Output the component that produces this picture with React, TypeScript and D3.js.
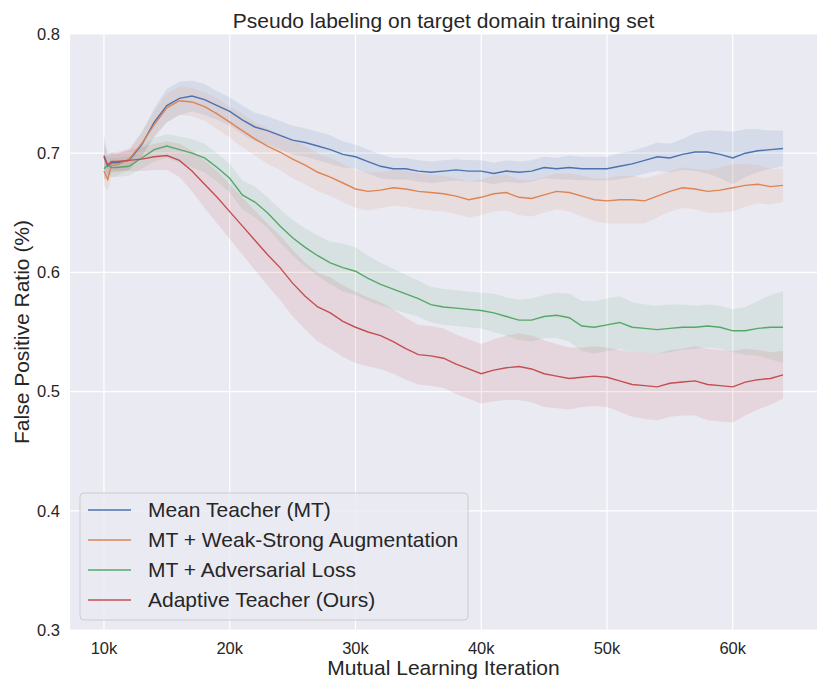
import React, { useEffect } from "react";
import * as d3 from "d3";

// iterations sampled from the figure
const iters = [
  10000, 10300, 10600, 11000, 12000, 13000, 14000, 15000, 16000, 17000, 18000, 19000,
  20000, 21000, 22000, 23000, 24000, 25000, 26000, 27000, 28000, 29000, 30000, 31000,
  32000, 33000, 34000, 35000, 36000, 37000, 38000, 39000, 40000, 41000, 42000, 43000,
  44000, 45000, 46000, 47000, 48000, 49000, 50000, 51000, 52000, 53000, 54000, 55000,
  56000, 57000, 58000, 59000, 60000, 61000, 62000, 63000, 64000,
];

const meanTeacher = [
  0.697, 0.689, 0.692, 0.692, 0.694, 0.707, 0.726, 0.74, 0.746, 0.748, 0.745, 0.74,
  0.735, 0.728, 0.722, 0.719, 0.715, 0.711, 0.709, 0.706, 0.703, 0.699, 0.697, 0.693,
  0.689, 0.687, 0.687, 0.685, 0.684, 0.685, 0.686, 0.685, 0.685, 0.683, 0.685, 0.684,
  0.685, 0.688, 0.687, 0.688, 0.687, 0.687, 0.687, 0.689, 0.691, 0.694, 0.697, 0.696,
  0.699, 0.701, 0.701, 0.699, 0.696, 0.7, 0.702, 0.703, 0.704,
];
const meanTeacherSpread = [
  0.018, 0.012, 0.008, 0.008, 0.008, 0.01, 0.012, 0.014, 0.014, 0.013, 0.013, 0.012,
  0.012, 0.012, 0.012, 0.012, 0.012, 0.012, 0.012, 0.012, 0.012, 0.011, 0.01, 0.01,
  0.01, 0.009, 0.009, 0.009, 0.009, 0.009, 0.009, 0.009, 0.009, 0.009, 0.009, 0.009,
  0.009, 0.009, 0.009, 0.01, 0.01, 0.01, 0.01, 0.011, 0.011, 0.011, 0.012, 0.012,
  0.013, 0.016, 0.018, 0.02, 0.022, 0.02, 0.018, 0.016, 0.015,
];

const weakStrong = [
  0.685, 0.678, 0.69, 0.69, 0.695, 0.708, 0.724, 0.738, 0.744, 0.743, 0.739, 0.733,
  0.726, 0.719, 0.712, 0.706, 0.701, 0.695, 0.69, 0.684, 0.68, 0.675, 0.67, 0.668,
  0.669, 0.671, 0.67, 0.668, 0.667, 0.666, 0.664, 0.661, 0.663, 0.666, 0.667, 0.663,
  0.662, 0.665, 0.668, 0.667, 0.664, 0.661, 0.66, 0.661, 0.661, 0.66, 0.664, 0.668,
  0.671, 0.67, 0.668, 0.669, 0.671, 0.673, 0.674, 0.672, 0.673,
];
const weakStrongSpread = [
  0.012, 0.01, 0.01, 0.009, 0.009, 0.01, 0.011, 0.012, 0.012, 0.012, 0.012, 0.013,
  0.013, 0.014, 0.014, 0.015, 0.015, 0.016, 0.016, 0.016, 0.016, 0.016, 0.016, 0.016,
  0.015, 0.015, 0.015, 0.015, 0.015, 0.015, 0.015, 0.015, 0.015, 0.015, 0.015, 0.015,
  0.015, 0.015, 0.015, 0.016, 0.017, 0.018, 0.019, 0.02, 0.02, 0.019, 0.018, 0.017,
  0.017, 0.017, 0.018, 0.019, 0.02, 0.018, 0.016, 0.015, 0.014,
];

const adversarial = [
  0.687, 0.69, 0.688, 0.688, 0.689, 0.696, 0.703, 0.706, 0.703, 0.7, 0.696, 0.688,
  0.679, 0.665, 0.659, 0.65, 0.639, 0.629, 0.621, 0.614, 0.608, 0.604, 0.601, 0.595,
  0.59, 0.586, 0.582, 0.578, 0.573, 0.571, 0.57, 0.569, 0.568, 0.566, 0.563, 0.56,
  0.56, 0.563, 0.564, 0.562, 0.555, 0.554, 0.556, 0.558, 0.554, 0.553, 0.552, 0.553,
  0.554, 0.554, 0.555, 0.554, 0.551, 0.551, 0.553, 0.554, 0.554,
];
const adversarialSpread = [
  0.01, 0.008, 0.008, 0.008, 0.008, 0.009, 0.01, 0.01, 0.011, 0.012, 0.012, 0.012,
  0.012, 0.012, 0.013, 0.013, 0.014, 0.015, 0.016, 0.017, 0.018, 0.02, 0.02, 0.019,
  0.018, 0.017, 0.016, 0.015, 0.015, 0.015, 0.015, 0.015, 0.015, 0.016, 0.016, 0.017,
  0.018, 0.018, 0.019, 0.02, 0.021, 0.022, 0.022, 0.022, 0.021, 0.02, 0.02, 0.02,
  0.019, 0.018, 0.018, 0.018, 0.018, 0.02, 0.023, 0.027, 0.03,
];

const adaptiveTeacher = [
  0.698, 0.69, 0.693, 0.693, 0.694, 0.695, 0.697, 0.698, 0.694, 0.685, 0.674, 0.663,
  0.651, 0.639, 0.627, 0.615, 0.604, 0.591, 0.58, 0.571, 0.566, 0.559, 0.554, 0.55,
  0.547, 0.542, 0.536, 0.531, 0.53, 0.528, 0.523, 0.519, 0.515, 0.518, 0.52, 0.521,
  0.519, 0.515, 0.513, 0.511, 0.512, 0.513, 0.512, 0.509, 0.506, 0.505, 0.504, 0.507,
  0.508, 0.509, 0.506, 0.505, 0.504, 0.508, 0.51, 0.511, 0.514,
];
const adaptiveTeacherSpread = [
  0.01, 0.008, 0.008, 0.008, 0.009, 0.01, 0.011, 0.012, 0.014, 0.017, 0.02, 0.022,
  0.023, 0.024, 0.025, 0.026, 0.027, 0.028, 0.028, 0.029, 0.03, 0.03, 0.03, 0.029,
  0.028, 0.027, 0.026, 0.025, 0.025, 0.025, 0.025, 0.025, 0.025, 0.026, 0.027, 0.028,
  0.028, 0.028, 0.027, 0.026, 0.025, 0.025, 0.025, 0.026, 0.027, 0.028, 0.028, 0.028,
  0.028, 0.029, 0.03, 0.03, 0.03, 0.028, 0.025, 0.022, 0.02,
];

const seriesNames = [
  "Mean Teacher (MT)",
  "MT + Weak-Strong Augmentation",
  "MT + Adversarial Loss",
  "Adaptive Teacher (Ours)",
];
const seriesColors = ["#4c72b0", "#dd8452", "#55a868", "#c44e52"];
const seriesValues = [meanTeacher, weakStrong, adversarial, adaptiveTeacher];
const seriesSpreads = [meanTeacherSpread, weakStrongSpread, adversarialSpread, adaptiveTeacherSpread];

const xTicks = [10000, 20000, 30000, 40000, 50000, 60000];
const xTickLabels = ["10k", "20k", "30k", "40k", "50k", "60k"];
const yTicks = [0.3, 0.4, 0.5, 0.6, 0.7, 0.8];

const W = 830;
const H = 692;
const plot = { left: 70, right: 817, top: 34, bottom: 630 };
const font = "'Liberation Sans', Arial, sans-serif";

export default function App() {
  useEffect(() => {
    document.body.style.margin = "0";
  }, []);

  const x = d3.scaleLinear().domain([7300, 66700]).range([plot.left, plot.right]);
  const y = d3.scaleLinear().domain([0.3, 0.8]).range([plot.bottom, plot.top]);

  const line = d3
    .line<number>()
    .x((_, i) => x(iters[i]))
    .y((d) => y(d));

  const band = (vals: number[], spread: number[]) =>
    d3
      .area<number>()
      .x((_, i) => x(iters[i]))
      .y0((d, i) => y(d - spread[i]))
      .y1((d, i) => y(d + spread[i]))(vals);

  return (
    <svg width={W} height={H} style={{ display: "block", background: "#fff" }} fontFamily={font}>
      <rect
        x={plot.left}
        y={plot.top}
        width={plot.right - plot.left}
        height={plot.bottom - plot.top}
        fill="#eaeaf2"
      />
      {xTicks.map((t) => (
        <line key={"gx" + t} x1={x(t)} x2={x(t)} y1={plot.top} y2={plot.bottom} stroke="#fff" strokeWidth={1.2} />
      ))}
      {yTicks.map((t) => (
        <line key={"gy" + t} x1={plot.left} x2={plot.right} y1={y(t)} y2={y(t)} stroke="#fff" strokeWidth={1.2} />
      ))}

      {seriesValues.map((vals, k) => (
        <path key={"b" + k} d={band(vals, seriesSpreads[k]) || ""} fill={seriesColors[k]} fillOpacity={0.12} />
      ))}
      {seriesValues.map((vals, k) => (
        <path key={"l" + k} d={line(vals) || ""} fill="none" stroke={seriesColors[k]} strokeWidth={1.4} />
      ))}

      {xTicks.map((t, i) => (
        <text key={"tx" + t} x={x(t)} y={653.5} textAnchor="middle" fontSize={16.5} fill="#262626">
          {xTickLabels[i]}
        </text>
      ))}
      {yTicks.map((t) => (
        <text key={"ty" + t} x={60} y={y(t)} dy="0.35em" textAnchor="end" fontSize={16.5} fill="#262626">
          {t.toFixed(1)}
        </text>
      ))}

      <text x={(plot.left + plot.right) / 2} y={28} textAnchor="middle" fontSize={21} fill="#262626">
        Pseudo labeling on target domain training set
      </text>
      <text x={(plot.left + plot.right) / 2} y={675} textAnchor="middle" fontSize={21} fill="#262626">
        Mutual Learning Iteration
      </text>
      <text
        transform={`translate(29,${(plot.top + plot.bottom) / 2}) rotate(-90)`}
        textAnchor="middle"
        fontSize={21}
        fill="#262626"
      >
        False Positive Ratio (%)
      </text>

      <g>
        <rect x={80} y={493} width={388} height={127} rx={4} fill="#eaeaf2" fillOpacity={0.8} stroke="#cccccc" />
        {seriesNames.map((name, k) => (
          <g key={"lg" + k} transform={`translate(0,${510 + k * 30})`}>
            <line x1={88} x2={131} y1={0} y2={0} stroke={seriesColors[k]} strokeWidth={1.4} />
            <text x={148} y={0} dy="0.35em" fontSize={21} fill="#262626">
              {name}
            </text>
          </g>
        ))}
      </g>
    </svg>
  );
}
